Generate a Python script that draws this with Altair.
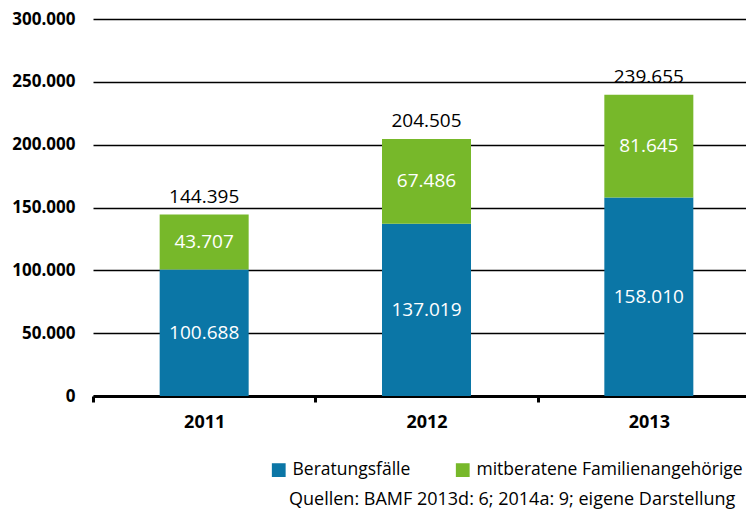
import altair as alt
import pandas as pd

years = ["2011", "2012", "2013"]
series = ["Beratungsfälle", "mitberatene Familienangehörige"]
beratung = [100688, 137019, 158010]
familie = [43707, 67486, 81645]
colors = ["#0b76a6", "#77b82a"]
source_text = "Quellen: BAMF 2013d: 6; 2014a: 9; eigene Darstellung"


def de(n):
    return f"{n:,}".replace(",", ".")


rows = []
for i, y in enumerate(years):
    rows.append({"year": y, "series": series[0], "ord": 0, "value": beratung[i], "label": de(beratung[i])})
    rows.append({"year": y, "series": series[1], "ord": 1, "value": familie[i], "label": de(familie[i])})
df = pd.DataFrame(rows)

totals = pd.DataFrame({
    "year": years,
    "total": [b + f for b, f in zip(beratung, familie)],
})
totals["label"] = totals["total"].apply(de)

FONT = "Open Sans"
x_scale = alt.Scale(domain=years, range=[0, 667], paddingInner=0, paddingOuter=0)

x_enc = alt.X(
    "year:N",
    title=None,
    scale=x_scale,
    axis=alt.Axis(
        labelAngle=0, labelFont=FONT, labelFontSize=18, labelFontWeight="bold",
        labelColor="black", labelPadding=11, domainColor="black", domainWidth=3,
        tickColor="black", tickWidth=3, tickSize=6, tickBand="extent", grid=False,
    ),
)
y_scale = alt.Scale(domain=[0, 300000], nice=False)

bars = alt.Chart(df).mark_bar(size=89).encode(
    x=x_enc,
    y=alt.Y(
        "value:Q", title=None, stack="zero", scale=y_scale,
        axis=alt.Axis(
            values=[0, 50000, 100000, 150000, 200000, 250000, 300000],
            labelExpr="replace(format(datum.value, ',d'), ',', '.')",
            labelFont=FONT, labelFontSize=17, labelFontWeight="bold", labelColor="black",
            labelPadding=18, domain=False, ticks=False, grid=True,
            gridColor="black", gridWidth=1.6,
        ),
    ),
    color=alt.Color(
        "series:N",
        scale=alt.Scale(domain=series, range=colors),
        legend=alt.Legend(
            title=None, orient="none", legendX=177, legendY=442, direction="horizontal",
            symbolType="square", symbolSize=190, symbolStrokeWidth=0, symbolOpacity=1,
            labelFont=FONT, labelFontSize=17.5, labelColor="black", columnPadding=43,
            labelOffset=5, labelLimit=800,
        ),
    ),
    order=alt.Order("ord:Q", sort="ascending"),
)

seg_text = alt.Chart(df).transform_stack(
    stack="value", groupby=["year"], as_=["y0", "y1"], sort=[alt.SortField("ord", order="ascending")]
).transform_calculate(
    mid="(datum.y0 + datum.y1) / 2"
).mark_text(font=FONT, fontSize=19, color="white", baseline="middle").encode(
    x=alt.X("year:N", scale=x_scale),
    y=alt.Y("mid:Q", scale=y_scale),
    text="label:N",
)

tot_text = alt.Chart(totals).mark_text(
    font=FONT, fontSize=19, color="black", baseline="bottom", dy=-8
).encode(
    x=alt.X("year:N", scale=x_scale),
    y=alt.Y("total:Q", scale=y_scale),
    text="label:N",
)

src = alt.Chart(pd.DataFrame({"t": [source_text]})).mark_text(
    font=FONT, fontSize=18, color="black", align="left", baseline="middle"
).encode(
    x=alt.value(196), y=alt.value(481), text="t:N"
)

chart = alt.layer(bars, seg_text, tot_text, src).properties(
    width=653, height=377,
    autosize=alt.AutoSizeParams(type="none"),
    padding={"left": 85, "top": 11, "right": 0, "bottom": 118},
).configure_view(stroke=None)

chart.save("out.html", embed_options={"renderer": "svg", "actions": False})
